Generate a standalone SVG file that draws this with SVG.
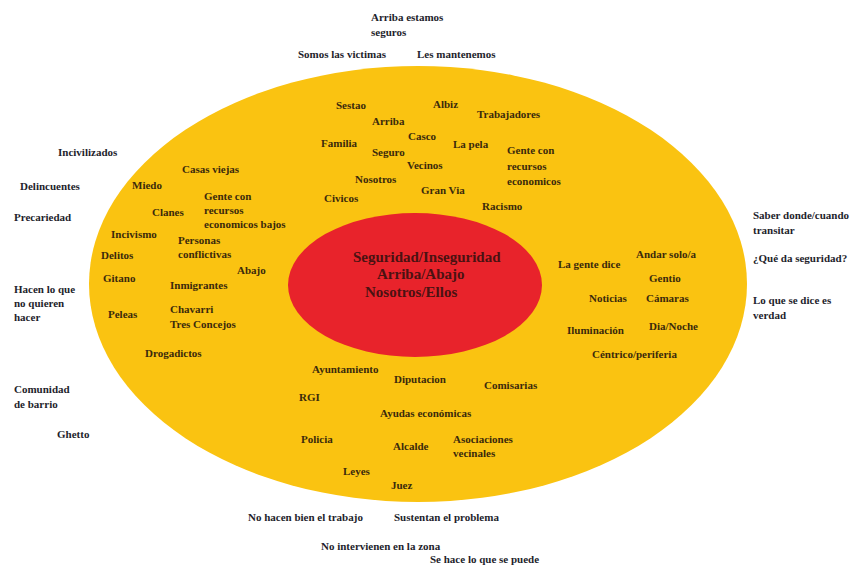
<svg xmlns="http://www.w3.org/2000/svg" width="855" height="565" viewBox="0 0 855 565">
<style>
text{font-family:"Liberation Serif","Times New Roman",serif;font-weight:bold;font-size:11px}
.in{fill:#3a2a0c}
.out{fill:#1e1e2c}
.c{fill:#4a1212;font-size:15px}
</style>
<rect width="855" height="565" fill="#ffffff"/>
<g id="outer-ring"><ellipse cx="418" cy="284" rx="329" ry="218" fill="#fac311"/></g>
<g id="core"><ellipse cx="415" cy="285" rx="127" ry="72" fill="#e8232b"/>
<text class="c" x="353" y="262">Seguridad/Inseguridad</text>
<text class="c" x="377" y="279">Arriba/Abajo</text>
<text class="c" x="365" y="297">Nosotros/Ellos</text></g>

<g id="top-outside" class="out">
<text class="out" x="371" y="21">Arriba estamos</text>
<text class="out" x="371" y="36">seguros</text>
<text class="out" x="298" y="58">Somos las victimas</text>
<text class="out" x="417" y="58">Les mantenemos</text>
</g>
<g id="top-inside">
<text class="in" x="336" y="109">Sestao</text>
<text class="in" x="433" y="108">Albiz</text>
<text class="in" x="477" y="118">Trabajadores</text>
<text class="in" x="372" y="125">Arriba</text>
<text class="in" x="408" y="140">Casco</text>
<text class="in" x="321" y="147">Familia</text>
<text class="in" x="453" y="148">La pela</text>
<text class="in" x="372" y="156">Seguro</text>
<text class="in" x="507" y="154">Gente con</text>
<text class="in" x="507" y="170">recursos</text>
<text class="in" x="507" y="185">economicos</text>
<text class="in" x="407" y="169">Vecinos</text>
<text class="in" x="355" y="183">Nosotros</text>
<text class="in" x="421" y="194">Gran Via</text>
<text class="in" x="324" y="202">Civicos</text>
<text class="in" x="482" y="210">Racismo</text>
</g>
<g id="left-outside">
<text class="out" x="58" y="156">Incivilizados</text>
<text class="out" x="20" y="190">Delincuentes</text>
<text class="out" x="14" y="221">Precariedad</text>
<text class="out" x="14" y="293">Hacen lo que</text>
<text class="out" x="14" y="307">no quieren</text>
<text class="out" x="14" y="321">hacer</text>
<text class="out" x="14" y="393">Comunidad</text>
<text class="out" x="14" y="408">de barrio</text>
<text class="out" x="57" y="438">Ghetto</text>
</g>
<g id="left-inside">
<text class="in" x="182" y="173">Casas viejas</text>
<text class="in" x="132" y="189">Miedo</text>
<text class="in" x="204" y="200">Gente con</text>
<text class="in" x="204" y="214">recursos</text>
<text class="in" x="204" y="228">economicos bajos</text>
<text class="in" x="152" y="216">Clanes</text>
<text class="in" x="111" y="238">Incivismo</text>
<text class="in" x="178" y="244">Personas</text>
<text class="in" x="178" y="258">conflictivas</text>
<text class="in" x="101" y="259">Delitos</text>
<text class="in" x="237" y="274">Abajo</text>
<text class="in" x="103" y="282">Gitano</text>
<text class="in" x="170" y="289">Inmigrantes</text>
<text class="in" x="170" y="313">Chavarri</text>
<text class="in" x="170" y="328">Tres Concejos</text>
<text class="in" x="108" y="318">Peleas</text>
<text class="in" x="145" y="357">Drogadictos</text>
</g>
<g id="right-inside">
<text class="in" x="558" y="268">La gente dice</text>
<text class="in" x="636" y="258">Andar solo/a</text>
<text class="in" x="649" y="282">Gentio</text>
<text class="in" x="589" y="302">Noticias</text>
<text class="in" x="646" y="302">Cámaras</text>
<text class="in" x="567" y="334">Iluminación</text>
<text class="in" x="649" y="330">Dia/Noche</text>
<text class="in" x="592" y="358">Céntrico/periferia</text>
</g>
<g id="right-outside">
<text class="out" x="753" y="219">Saber donde/cuando</text>
<text class="out" x="753" y="234">transitar</text>
<text class="out" x="753" y="262">¿Qué da seguridad?</text>
<text class="out" x="753" y="304">Lo que se dice es</text>
<text class="out" x="753" y="319">verdad</text>
</g>
<g id="bottom-inside">
<text class="in" x="312" y="373">Ayuntamiento</text>
<text class="in" x="394" y="383">Diputacion</text>
<text class="in" x="484" y="389">Comisarias</text>
<text class="in" x="299" y="401">RGI</text>
<text class="in" x="380" y="417">Ayudas económicas</text>
<text class="in" x="301" y="443">Policia</text>
<text class="in" x="393" y="450">Alcalde</text>
<text class="in" x="453" y="443">Asociaciones</text>
<text class="in" x="453" y="457">vecinales</text>
<text class="in" x="343" y="475">Leyes</text>
<text class="in" x="391" y="489">Juez</text>
</g>
<g id="bottom-outside">
<text class="out" x="248" y="521">No hacen bien el trabajo</text>
<text class="out" x="394" y="521">Sustentan el problema</text>
<text class="out" x="321" y="550">No intervienen en la zona</text>
<text class="out" x="430" y="563">Se hace lo que se puede</text>
</g>
</svg>
